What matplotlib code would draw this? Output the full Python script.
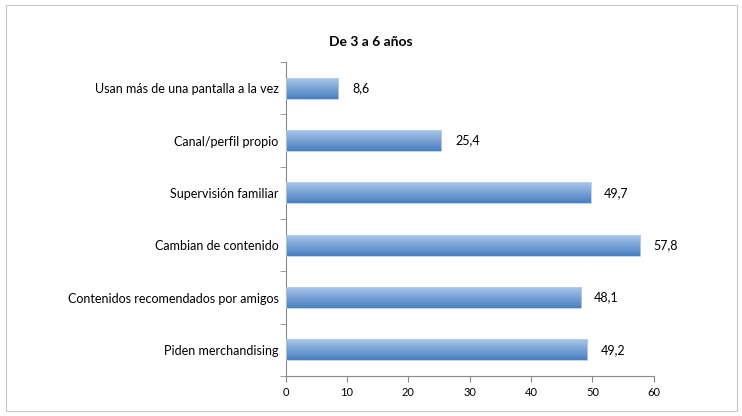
import numpy as np
import matplotlib.pyplot as plt
from matplotlib.colors import LinearSegmentedColormap
from matplotlib.patches import Rectangle

categories = ["Piden merchandising", "Contenidos recomendados por amigos",
              "Cambian de contenido", "Supervisión familiar",
              "Canal/perfil propio", "Usan más de una pantalla a la vez"]
values = [49.2, 48.1, 57.8, 49.7, 25.4, 8.6]
labels = ["49,2", "48,1", "57,8", "49,7", "25,4", "8,6"]
xticks = [0, 10, 20, 30, 40, 50, 60]

plt.rcParams['font.family'] = ['Lato', 'DejaVu Sans']

fig = plt.figure(figsize=(7.42, 4.16), dpi=100)
ax = fig.add_axes([0.385, 0.096, 0.496, 0.755])

# gradient from light (top) to darker (bottom) like the Excel bars
cmap = LinearSegmentedColormap.from_list("bar", ["#4a7fc1", "#a7c6ea"])
grad = np.linspace(0, 1, 64).reshape(-1, 1)

ypos = np.arange(len(categories))
bars = ax.barh(ypos, values, height=0.4, color="none", edgecolor="#b9cde6", linewidth=0.6, zorder=3)
for b in bars:
    x0, y0 = b.get_x(), b.get_y()
    w, h = b.get_width(), b.get_height()
    im = ax.imshow(grad, cmap=cmap, aspect="auto", extent=[x0, x0 + w, y0, y0 + h],
                   origin="lower", zorder=2, interpolation="bilinear")
    im.set_clip_path(Rectangle((x0, y0), w, h, transform=ax.transData))

for y, v, t in zip(ypos, values, labels):
    ax.text(v + 2.2, y, t, va="center", ha="left", fontsize=9, color="black")

ax.set_xlim(0, 60)
ax.set_ylim(-0.5, len(categories) - 0.5)
ax.set_xticks(xticks)
ax.set_xticklabels([str(t) for t in xticks], fontsize=8)
ax.set_yticks(ypos)
ax.set_yticklabels(categories, fontsize=9)
ax.set_yticks(np.arange(-0.5, len(categories)), minor=True)
ax.tick_params(axis="y", which="major", length=0, pad=5)
ax.tick_params(axis="y", which="minor", length=4, color="#888888", direction="out")
ax.tick_params(axis="x", length=4, color="#888888", direction="out", pad=4)

for s in ["top", "right"]:
    ax.spines[s].set_visible(False)
for s in ["left", "bottom"]:
    ax.spines[s].set_color("#888888")
    ax.spines[s].set_linewidth(0.8)

fig.text(0.5, 0.9, "De 3 a 6 años", ha="center", va="center", fontsize=10, fontweight="bold")

fig.patches.append(Rectangle((0.008, 0.012), 0.985, 0.976, transform=fig.transFigure,
                             fill=False, edgecolor="#c8c8c8", linewidth=0.8))

fig.savefig("out.png", dpi=100)
